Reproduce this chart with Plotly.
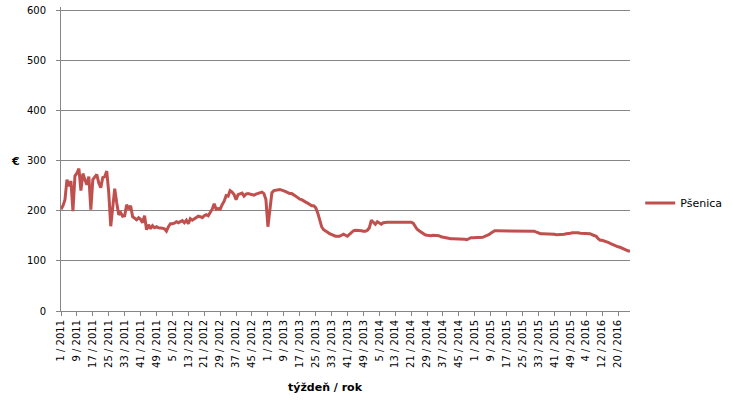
import plotly.graph_objects as go

# weeks per year and years (category labels "week / year")
years = [2011, 2012, 2013, 2014, 2015, 2016]
weeks_in_year = [52, 52, 52, 52, 53, 26]

# weekly prices of wheat (€), per year
p2011 = [203, 210, 222, 262, 249, 259, 199, 269, 275, 284, 240, 274, 262, 252, 268, 202,
         262, 266, 272, 255, 246, 266, 268, 279, 236, 169, 215, 244, 216, 192, 196, 189,
         190, 212, 203, 210, 188, 184, 182, 186, 183, 176, 190, 162, 172, 164, 170, 166,
         168, 166, 166, 165]
p2012 = [164, 159, 168, 174, 174, 175, 178, 176, 178, 180, 176, 181, 174, 184, 181, 184,
         186, 189, 188, 186, 190, 192, 190, 196, 203, 214, 203, 204, 203, 212, 219, 230,
         229, 240, 237, 232, 222, 232, 234, 235, 229, 233, 234, 233, 232, 231, 233, 234,
         236, 237, 234, 222]
p2013 = [168, 205, 236, 240, 241, 242, 242, 241, 240, 238, 236, 234, 234, 232, 229, 226,
         223, 222, 219, 217, 215, 212, 210, 210, 206, 196, 181, 168, 162, 160, 157, 154,
         152, 150, 149, 149, 149, 151, 153, 151, 149, 153, 157, 160, 161, 161, 161, 160,
         159, 159, 161, 166]
p2014 = [181, 177, 173, 178, 175, 173, 176, 177, 177, 177, 177, 177, 177, 177, 177, 177,
         177, 177, 177, 177, 177, 175, 168, 163, 160, 157, 154, 152, 151, 150, 150, 151,
         151, 150, 150, 148, 147, 146, 146, 145, 144, 144, 144, 144, 144, 144, 144, 143,
         142, 144, 146, 146]
p2015 = [146, 146, 146, 146, 147, 149, 150, 152, 155, 158, 160, 160, 160, 160, 160, 160,
         160, 160, 160, 160, 160, 160, 160, 160, 160, 160, 160, 160, 160, 160, 159, 157,
         155, 154, 154, 154, 154, 154, 153, 153, 153, 152, 152, 153, 153, 153, 154, 154,
         155, 156, 156, 157, 156]
p2016 = [155, 155, 155, 155, 154, 154, 152, 151, 149, 144, 141, 141, 140, 139, 137, 135,
         133, 132, 130, 128, 127, 125, 124, 122, 120, 119]

series_name = "Pšenica"
x_title = "týždeň / rok"
y_title = "€"

categories = []
for y, n in zip(years, weeks_in_year):
    for w in range(1, n + 1):
        categories.append(f"{w} / {y}")
values = p2011 + p2012 + p2013 + p2014 + p2015 + p2016

tick_labels = categories[::8]

grid = "#868686"
font_family = "DejaVu Sans, Verdana, sans-serif"
plot_h = 304

fig = go.Figure()
fig.add_trace(go.Scatter(
    x=categories, y=values, mode="lines", name=series_name,
    line=dict(color="#C0504D", width=3),
))

fig.update_layout(
    width=733, height=400,
    margin=dict(l=61, r=103, t=400 - 89 - plot_h, b=89, autoexpand=False),
    paper_bgcolor="white", plot_bgcolor="white",
    font=dict(family=font_family, size=10, color="#000000"),
    showlegend=True,
    legend=dict(x=1.018, y=(311 - 203) / plot_h, xanchor="left", yanchor="middle",
                font=dict(size=11, family=font_family), itemwidth=30,
                bgcolor="rgba(0,0,0,0)"),
    xaxis=dict(
        type="category", categoryorder="array", categoryarray=categories,
        range=[0, len(categories) - 1], automargin=False,
        tickmode="array", tickvals=tick_labels, ticktext=tick_labels,
        tickangle=-90, tickfont=dict(size=10, family=font_family),
        ticks="outside", ticklen=4, tickcolor=grid,
        showgrid=False, showline=True, linecolor=grid, linewidth=1,
        zeroline=False,
    ),
    yaxis=dict(
        range=[0, 606], dtick=100, tick0=0, automargin=False,
        tickfont=dict(size=10, family=font_family), ticklabeloverflow="allow",
        ticks="outside", ticklen=4, tickcolor=grid, ticklabelstandoff=8,
        showgrid=True, gridcolor=grid, gridwidth=1,
        showline=True, linecolor=grid, linewidth=1,
        zeroline=False,
    ),
    annotations=[
        dict(text="<b>" + x_title + "</b>", xref="paper", yref="paper",
             x=(325 - 61) / 569, y=(311 - 387) / plot_h, xanchor="center", yanchor="middle",
             showarrow=False, font=dict(size=11, family=font_family)),
        dict(text="<b>" + y_title + "</b>", xref="paper", yref="paper",
             x=(15 - 61) / 569, y=(311 - 161) / plot_h, xanchor="center", yanchor="middle",
             showarrow=False, font=dict(size=11, family=font_family)),
    ],
)

fig.write_html("out.html", config={"displayModeBar": False},
               post_script="document.body.style.margin='0';document.body.style.overflow='hidden';")
